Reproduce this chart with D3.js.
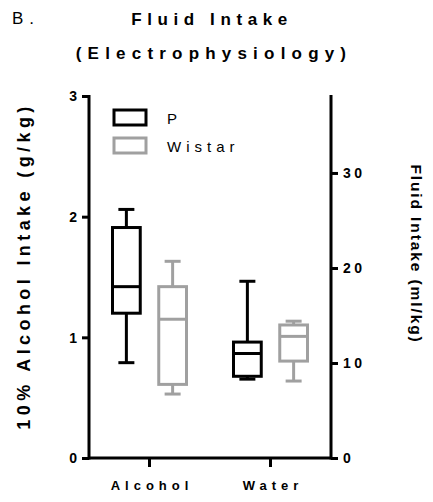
<!DOCTYPE html>
<html>
<head>
<meta charset="utf-8">
<script src="https://cdn.jsdelivr.net/npm/d3@7"></script>
<style>
body { margin: 0; background: #fff; }
text { font-family: "Liberation Sans", Arial, sans-serif; }
</style>
</head>
<body>
<svg width="433" height="502"></svg>
<script>
var categories = ["Alcohol", "Water"];
var groups = ["P", "Wistar"];
var colors = ["#000000", "#a0a0a0"];
// [min, q1, median, q3, max]; Alcohol in g/kg (left axis), Water in ml/kg (right axis)
var alcoholP = [0.79, 1.20, 1.42, 1.91, 2.06];
var alcoholWistar = [0.53, 0.61, 1.15, 1.42, 1.63];
var waterP = [8.3, 8.6, 11.0, 12.2, 18.6];
var waterWistar = [8.1, 10.2, 12.8, 14.0, 14.4];
var leftTicks = [0, 1, 2, 3];
var rightTicks = [0, 10, 20, 30];

function drawPlot() {
	var svg = d3.select("svg");
	var left = 89, right = 331, top = 96, bottom = 458;

	var x = d3.scaleBand().domain(categories).range([left, right]);
	var g = d3.scaleBand().domain(groups).range([-37, 37]).paddingInner(0.4);
	var yL = d3.scaleLinear().domain([0, 3]).range([bottom, top]);
	var yR = d3.scaleLinear().domain([0, 38.1]).range([bottom, top]);

	var boxes = [
		{cat: "Alcohol", grp: "P", v: alcoholP, y: yL},
		{cat: "Alcohol", grp: "Wistar", v: alcoholWistar, y: yL},
		{cat: "Water", grp: "P", v: waterP, y: yR},
		{cat: "Water", grp: "Wistar", v: waterWistar, y: yR}
	];

	// titles
	svg.append("text").attr("x", 12).attr("y", 24)
		.style("font-size", "17px").style("letter-spacing", "6px").text("B.");
	svg.append("text").attr("x", 212).attr("y", 25).attr("text-anchor", "middle")
		.style("font-size", "17px").style("font-weight", "bold").style("letter-spacing", "5.6px")
		.text("Fluid Intake");
	svg.append("text").attr("x", 214).attr("y", 59).attr("text-anchor", "middle")
		.style("font-size", "17px").style("font-weight", "bold").style("letter-spacing", "6.2px")
		.text("(Electrophysiology)");

	// boxes
	var bw = g.bandwidth();
	var bx = svg.append("g");
	boxes.forEach(function(b, i) {
		var cx = x(b.cat) + x.bandwidth() / 2 + g(b.grp) + bw / 2;
		var col = colors[groups.indexOf(b.grp)];
		var sg = bx.append("g").attr("stroke", col).attr("stroke-width", 3).attr("fill", "none");
		sg.append("line").attr("x1", cx).attr("x2", cx).attr("y1", b.y(b.v[0])).attr("y2", b.y(b.v[1]));
		sg.append("line").attr("x1", cx).attr("x2", cx).attr("y1", b.y(b.v[3])).attr("y2", b.y(b.v[4]));
		sg.append("line").attr("x1", cx - 8).attr("x2", cx + 8).attr("y1", b.y(b.v[0])).attr("y2", b.y(b.v[0]));
		sg.append("line").attr("x1", cx - 8).attr("x2", cx + 8).attr("y1", b.y(b.v[4])).attr("y2", b.y(b.v[4]));
		sg.append("rect").attr("x", cx - bw / 2).attr("width", bw)
			.attr("y", b.y(b.v[3])).attr("height", b.y(b.v[1]) - b.y(b.v[3]))
			.attr("fill", "#fff");
		sg.append("line").attr("x1", cx - bw / 2).attr("x2", cx + bw / 2)
			.attr("y1", b.y(b.v[2])).attr("y2", b.y(b.v[2]));
	});

	// axes
	var axL = svg.append("g").attr("transform", "translate(" + left + ",0)")
		.call(d3.axisLeft(yL).tickValues(leftTicks).tickFormat(d3.format("d")).tickSize(7).tickPadding(5));
	var axR = svg.append("g").attr("transform", "translate(" + right + ",0)")
		.call(d3.axisRight(yR).tickValues(rightTicks).tickFormat(d3.format("d")).tickSize(7).tickPadding(5));
	var axB = svg.append("g").attr("transform", "translate(0," + bottom + ")")
		.call(d3.axisBottom(x).tickSize(9).tickPadding(14));
	[axL, axR, axB].forEach(function(a) {
		a.select(".domain").remove();
		a.selectAll(".tick line").attr("stroke-width", 3);
		a.selectAll("text").style("font-family", "Liberation Sans, Arial, sans-serif")
			.style("font-size", "14px").style("font-weight", "bold");
	});
	axL.selectAll(".tick text").attr("dy", "0.35em");
	axR.selectAll(".tick text").attr("dy", "0.35em").style("letter-spacing", "3.5px");
	axB.selectAll(".tick text").style("font-size", "13px").style("letter-spacing", "5px").attr("dx", "2.5px");
	svg.append("line").attr("x1", left).attr("x2", left).attr("y1", top - 1).attr("y2", bottom + 1.5)
		.attr("stroke", "#000").attr("stroke-width", 3);
	svg.append("line").attr("x1", right).attr("x2", right).attr("y1", top - 1).attr("y2", bottom + 1.5)
		.attr("stroke", "#000").attr("stroke-width", 3);
	svg.append("line").attr("x1", left).attr("x2", right).attr("y1", bottom).attr("y2", bottom)
		.attr("stroke", "#000").attr("stroke-width", 3);

	// axis titles
	svg.append("text").attr("transform", "translate(30,266)rotate(-90)").attr("text-anchor", "middle")
		.style("font-size", "18px").style("font-weight", "bold").style("letter-spacing", "4.4px")
		.text("10% Alcohol Intake (g/kg)");
	svg.append("text").attr("transform", "translate(411,254)rotate(90)").attr("text-anchor", "middle")
		.style("font-size", "15.5px").style("font-weight", "bold").style("letter-spacing", "1.9px")
		.text("Fluid Intake (ml/kg)");

	// legend
	var lg = svg.append("g").selectAll("g").data(groups).enter().append("g")
		.attr("transform", function(d, i) { return "translate(114," + (110 + i * 28) + ")"; });
	lg.append("rect").attr("width", 32).attr("height", 15).attr("fill", "none")
		.attr("stroke", function(d, i) { return colors[i]; }).attr("stroke-width", 3);
	lg.append("text").attr("x", 53).attr("y", 14)
		.style("font-size", "15px").style("letter-spacing", "5px").text(function(d) { return d; });
}
drawPlot();
</script>
</body>
</html>
